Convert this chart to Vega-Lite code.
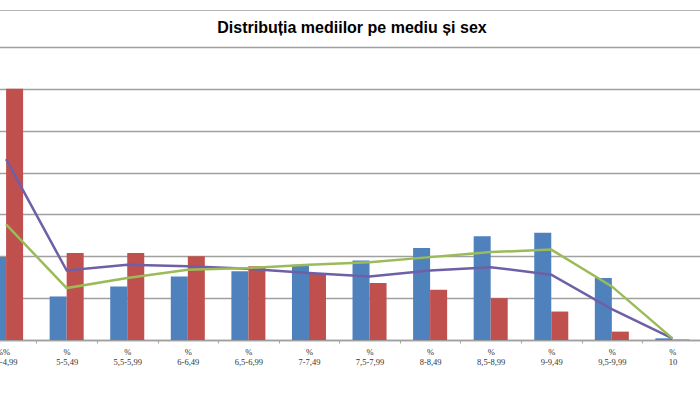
{
  "$schema": "https://vega.github.io/schema/vega-lite/v6.json",
  "width": 702,
  "height": 369,
  "autosize": "none",
  "padding": {"left": -1, "top": 10, "right": 0, "bottom": 0},
  "view": {"stroke": "#b4b4b4", "strokeWidth": 1, "fill": "#ffffff"},
  "title": {
    "text": "Distribuția mediilor pe mediu și sex",
    "font": "Liberation Sans",
    "fontSize": 16,
    "fontWeight": "bold",
    "color": "#000000",
    "anchor": "middle",
    "baseline": "alphabetic",
    "offset": -39,
    "dx": 2
  },
  "config": {
    "background": "#ffffff"
  },
  "datasets": {
    "bare": [
      {"interval": "4-4,99", "serie": "Seria 1", "valoare": 9.9},
      {"interval": "4-4,99", "serie": "Seria 2", "valoare": 30.0},
      {"interval": "5-5,49", "serie": "Seria 1", "valoare": 5.2},
      {"interval": "5-5,49", "serie": "Seria 2", "valoare": 10.4},
      {"interval": "5,5-5,99", "serie": "Seria 1", "valoare": 6.4},
      {"interval": "5,5-5,99", "serie": "Seria 2", "valoare": 10.4},
      {"interval": "6-6,49", "serie": "Seria 1", "valoare": 7.6},
      {"interval": "6-6,49", "serie": "Seria 2", "valoare": 10.0},
      {"interval": "6,5-6,99", "serie": "Seria 1", "valoare": 8.2},
      {"interval": "6,5-6,99", "serie": "Seria 2", "valoare": 8.8},
      {"interval": "7-7,49", "serie": "Seria 1", "valoare": 9.0},
      {"interval": "7-7,49", "serie": "Seria 2", "valoare": 8.0},
      {"interval": "7,5-7,99", "serie": "Seria 1", "valoare": 9.5},
      {"interval": "7,5-7,99", "serie": "Seria 2", "valoare": 6.8},
      {"interval": "8-8,49", "serie": "Seria 1", "valoare": 11.0},
      {"interval": "8-8,49", "serie": "Seria 2", "valoare": 6.0},
      {"interval": "8,5-8,99", "serie": "Seria 1", "valoare": 12.4},
      {"interval": "8,5-8,99", "serie": "Seria 2", "valoare": 5.0},
      {"interval": "9-9,49", "serie": "Seria 1", "valoare": 12.8},
      {"interval": "9-9,49", "serie": "Seria 2", "valoare": 3.4},
      {"interval": "9,5-9,99", "serie": "Seria 1", "valoare": 7.4},
      {"interval": "9,5-9,99", "serie": "Seria 2", "valoare": 1.0},
      {"interval": "10", "serie": "Seria 1", "valoare": 0.2},
      {"interval": "10", "serie": "Seria 2", "valoare": 0.05}
    ],
    "linii": [
      {"interval": "4-4,99", "serie": "Seria 3", "valoare": 21.6},
      {"interval": "5-5,49", "serie": "Seria 3", "valoare": 8.3},
      {"interval": "5,5-5,99", "serie": "Seria 3", "valoare": 9.0},
      {"interval": "6-6,49", "serie": "Seria 3", "valoare": 8.8},
      {"interval": "6,5-6,99", "serie": "Seria 3", "valoare": 8.5},
      {"interval": "7-7,49", "serie": "Seria 3", "valoare": 8.0},
      {"interval": "7,5-7,99", "serie": "Seria 3", "valoare": 7.6},
      {"interval": "8-8,49", "serie": "Seria 3", "valoare": 8.3},
      {"interval": "8,5-8,99", "serie": "Seria 3", "valoare": 8.7},
      {"interval": "9-9,49", "serie": "Seria 3", "valoare": 7.8},
      {"interval": "9,5-9,99", "serie": "Seria 3", "valoare": 3.7},
      {"interval": "10", "serie": "Seria 3", "valoare": 0.2},
      {"interval": "4-4,99", "serie": "Seria 4", "valoare": 13.8},
      {"interval": "5-5,49", "serie": "Seria 4", "valoare": 6.2},
      {"interval": "5,5-5,99", "serie": "Seria 4", "valoare": 7.4},
      {"interval": "6-6,49", "serie": "Seria 4", "valoare": 8.4},
      {"interval": "6,5-6,99", "serie": "Seria 4", "valoare": 8.6},
      {"interval": "7-7,49", "serie": "Seria 4", "valoare": 9.0},
      {"interval": "7,5-7,99", "serie": "Seria 4", "valoare": 9.3},
      {"interval": "8-8,49", "serie": "Seria 4", "valoare": 9.9},
      {"interval": "8,5-8,99", "serie": "Seria 4", "valoare": 10.5},
      {"interval": "9-9,49", "serie": "Seria 4", "valoare": 10.8},
      {"interval": "9,5-9,99", "serie": "Seria 4", "valoare": 6.4},
      {"interval": "10", "serie": "Seria 4", "valoare": 0.2}
    ]
  },
  "encoding": {
    "x": {
      "field": "interval",
      "type": "nominal",
      "sort": ["4-4,99", "5-5,49", "5,5-5,99", "6-6,49", "6,5-6,99", "7-7,49", "7,5-7,99", "8-8,49", "8,5-8,99", "9-9,49", "9,5-9,99", "10"],
      "scale": {"range": [-23.2, 703.7], "paddingInner": 0, "paddingOuter": 0},
      "axis": {
        "title": null,
        "offset": -39,
        "labelAngle": 0,
        "labelExpr": "['%', datum.label]",
        "labelFont": "Liberation Serif",
        "labelFontSize": 8.5,
        "labelLineHeight": 10,
        "labelColor": "#333333",
        "labelPadding": 4,
        "tickBand": "extent",
        "tickSize": 3,
        "tickColor": "#a6a6a6",
        "domainColor": "#a0a0a0",
        "domainWidth": 1.5,
        "grid": false
      }
    },
    "y": {
      "field": "valoare",
      "type": "quantitative",
      "scale": {"domain": [0, 35], "range": [330, 37], "nice": false, "zero": true},
      "axis": {
        "title": null,
        "values": [0, 5, 10, 15, 20, 25, 30, 35],
        "labels": false,
        "ticks": false,
        "domain": false,
        "grid": true,
        "gridColor": "#a0a0a0",
        "gridWidth": 1.5
      }
    }
  },
  "layer": [
    {
      "data": {"name": "bare"},
      "mark": {"type": "bar"},
      "encoding": {
        "xOffset": {"field": "serie", "type": "nominal", "sort": ["Seria 1", "Seria 2"], "scale": {"paddingInner": 0, "paddingOuter": 0.78}},
        "color": {
          "field": "serie",
          "type": "nominal",
          "scale": {"domain": ["Seria 1", "Seria 2", "Seria 3", "Seria 4"], "range": ["#4f81bd", "#c0504d", "#6f5fa6", "#9bbb59"]},
          "legend": null
        }
      }
    },
    {
      "data": {"name": "linii"},
      "mark": {"type": "line", "strokeWidth": 2.5},
      "encoding": {
        "color": {
          "field": "serie",
          "type": "nominal",
          "scale": {"domain": ["Seria 1", "Seria 2", "Seria 3", "Seria 4"], "range": ["#4f81bd", "#c0504d", "#6f5fa6", "#9bbb59"]},
          "legend": null
        }
      }
    }
  ]
}
